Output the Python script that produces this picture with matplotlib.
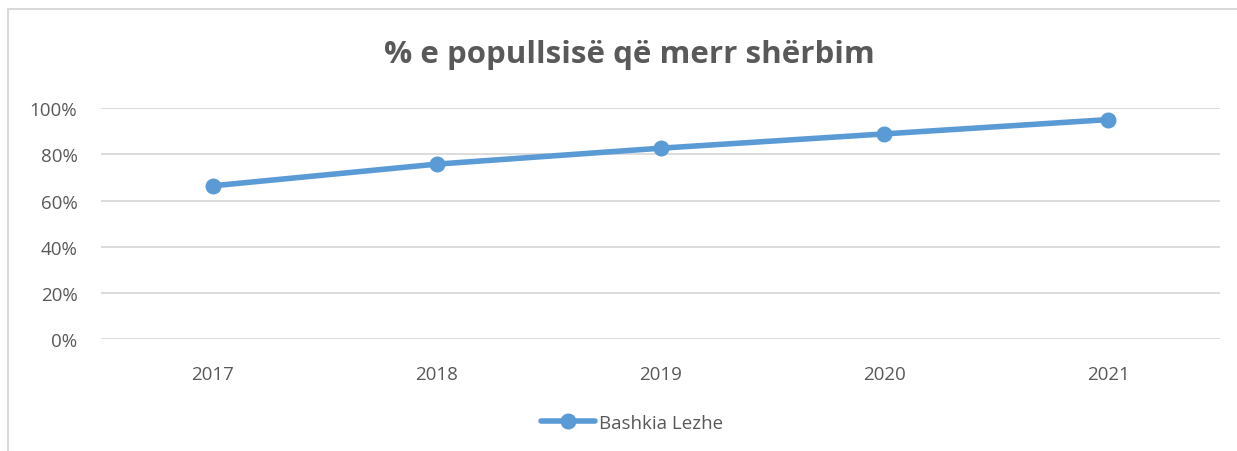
import matplotlib

matplotlib.use("Agg")
import matplotlib.pyplot as plt
from matplotlib.patches import Rectangle

TITLE = "% e popullsisë që merr shërbim"
YEARS = ["2017", "2018", "2019", "2020", "2021"]
SERVED = [0.664, 0.758, 0.827, 0.889, 0.951]
SERIES = "Bashkia Lezhe"
YTICKS = [0.0, 0.2, 0.4, 0.6, 0.8, 1.0]

BLUE = "#5B9BD5"
TEXT = "#595959"
GRID = "#D9D9D9"

plt.rcParams["font.family"] = ["Open Sans", "DejaVu Sans"]

fig = plt.figure(figsize=(12.37, 4.52), dpi=100)
ax = fig.add_axes([101 / 1237, 1 - 340 / 452, (1220 - 101) / 1237, (340 - 109.3) / 452])

# outer chart frame, cut off at the right and bottom like the screenshot
fig.patches.append(
    Rectangle((8 / 1237, -0.1), 1.2, 1 - 10 / 452 + 0.1, transform=fig.transFigure,
              fill=False, edgecolor=GRID, linewidth=1.5)
)

x = range(len(YEARS))
ax.plot(x, SERVED, color=BLUE, linewidth=4, marker="o", markersize=10.5,
        solid_capstyle="round", label=SERIES, zorder=3)

ax.set_xlim(-0.5, len(YEARS) - 0.5)
ax.set_ylim(0, 1)
ax.set_yticks(YTICKS)
ax.set_yticklabels([f"{v * 100:.0f}%" for v in YTICKS])
ax.set_xticks(list(x))
ax.set_xticklabels(YEARS)
ax.tick_params(length=0, labelsize=13.5, colors=TEXT)
ax.tick_params(axis="y", pad=17)
ax.tick_params(axis="x", pad=19)
ax.grid(True, axis="y", color=GRID, linewidth=1.3)
ax.set_axisbelow(True)
for s in ax.spines.values():
    s.set_visible(False)

fig.text(629 / 1237, 1 - 55 / 452, TITLE, ha="center", va="center",
         fontsize=22.5, fontweight="bold", color=TEXT)

leg = fig.legend(loc="center", bbox_to_anchor=(632 / 1237, 1 - 424 / 452), frameon=False,
                 fontsize=13.5, handlelength=2.9, handletextpad=0.2)
for t in leg.get_texts():
    t.set_color(TEXT)

fig.savefig("out.png", dpi=100)
